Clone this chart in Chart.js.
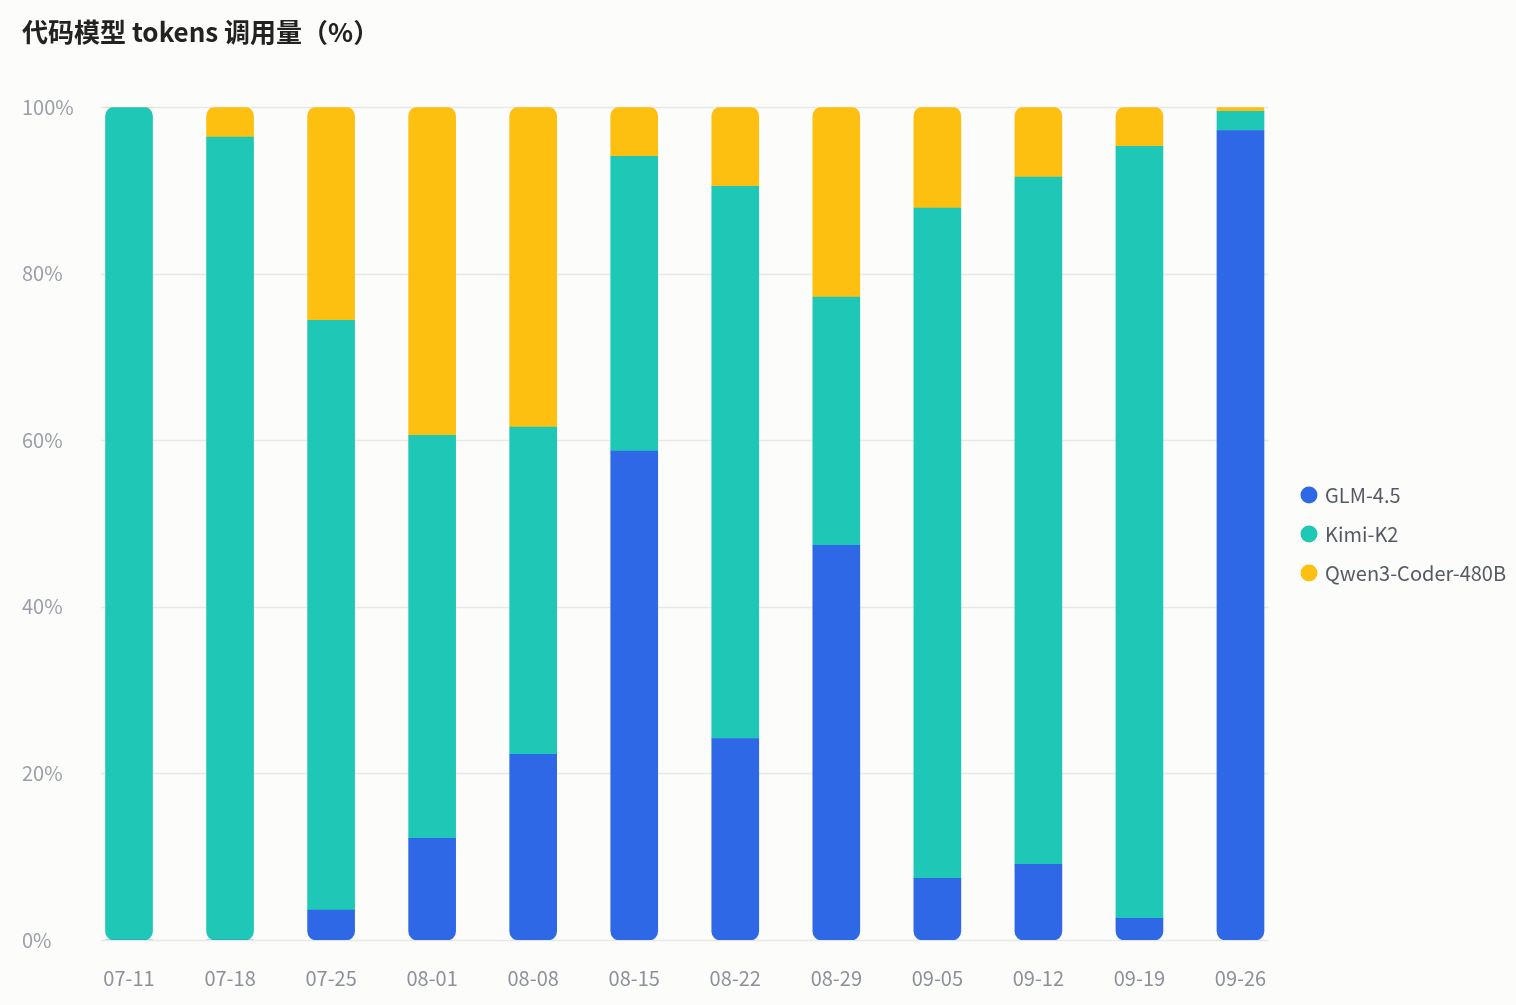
<!DOCTYPE html>
<html>
<head>
<meta charset="utf-8">
<script src="https://cdn.jsdelivr.net/npm/chart.js@4"></script>
<style>
  html, body { margin: 0; padding: 0; background: #fcfcfb; }
  #wrap { width: 1516px; height: 1005px; }
</style>
</head>
<body>
<div id="wrap"><canvas id="chart"></canvas></div>
<script>
// weekly share of code-model token calls (%)
const weeks = ['07-11', '07-18', '07-25', '08-01', '08-08', '08-15', '08-22', '08-29', '09-05', '09-12', '09-19', '09-26'];
const glm   = [0, 0, 3.6, 12.2, 22.3, 58.7, 24.2, 47.4, 7.4, 9.1, 2.6, 97.2];
const kimi  = [100, 96.4, 70.8, 48.4, 39.3, 35.4, 66.3, 29.8, 80.5, 82.5, 92.7, 2.3];
const qwen  = [0, 3.6, 25.6, 39.4, 38.4, 5.9, 9.5, 22.8, 12.1, 8.4, 4.7, 0.5];
const yTicks = [0, 20, 40, 60, 80, 100];

const seriesNames = ['GLM-4.5', 'Kimi-K2', 'Qwen3-Coder-480B'];
const seriesColors = ['#2e68e6', '#1fc8b6', '#fdc010'];
const allSeries = [glm, kimi, qwen];

const font = '"Noto Sans CJK SC", "Noto Sans", sans-serif';

// round only the outer ends of each stack
function cornerRadius(ctx) {
    const i = ctx.dataIndex;
    const d = ctx.datasetIndex;
    let first = -1, last = -1;
    allSeries.forEach((s, k) => {
        if (s[i] > 0) {
            if (first < 0) first = k;
            last = k;
        }
    });
    const r = 9;
    return {
        topLeft: d === last ? r : 0,
        topRight: d === last ? r : 0,
        bottomLeft: d === first ? r : 0,
        bottomRight: d === first ? r : 0
    };
}

const layoutPlugin = {
    id: 'barGrid',
    beforeInit(chart) {
        // fixed legend width so the plot keeps its place
        const fit = chart.legend.fit;
        chart.legend.fit = function () {
            fit.call(this);
            this.width = 225;
        };
    },
    afterLayout(chart) {
        // push the legend block a little below the middle and to the left
        const lg = chart.legend;
        lg.top += 39;
        lg.bottom += 39;
        lg.left -= 7;
        lg.right -= 7;
    },
    // horizontal grid lines spanning from first bar to last bar
    beforeDatasetsDraw(chart) {
        const x = chart.scales.x;
        const y = chart.scales.y;
        const half = 28;
        const left = x.getPixelForValue(0) - half;
        const right = x.getPixelForValue(weeks.length - 1) + half;
        const c = chart.ctx;
        c.save();
        c.strokeStyle = '#e8e8e8';
        c.lineWidth = 1.5;
        yTicks.forEach(v => {
            const py = Math.round(y.getPixelForValue(v)) + 0.5;
            c.beginPath();
            c.moveTo(left, py);
            c.lineTo(right, py);
            c.stroke();
        });
        c.restore();
    }
};

const ctx = document.getElementById('chart').getContext('2d');
const chart = new Chart(ctx, {
    type: 'bar',
    data: {
        labels: weeks,
        datasets: allSeries.map((s, k) => ({
            label: seriesNames[k],
            data: s,
            backgroundColor: seriesColors[k],
            borderWidth: 0,
            borderSkipped: false,
            borderRadius: cornerRadius,
            barThickness: 47
        }))
    },
    options: {
        responsive: true,
        maintainAspectRatio: false,
        animation: false,
        layout: {
            padding: { left: 22, right: 0, top: 0, bottom: 15 }
        },
        plugins: {
            title: {
                display: true,
                text: '代码模型 tokens 调用量（%）',
                align: 'start',
                color: '#222222',
                font: { family: font, size: 26, weight: 'bold' },
                padding: { top: 17, bottom: 59 }
            },
            legend: {
                position: 'right',
                align: 'center',
                labels: {
                    usePointStyle: true,
                    pointStyle: 'circle',
                    boxWidth: 12,
                    boxHeight: 12,
                    padding: 19,
                    color: '#555a62',
                    font: { family: font, size: 20 }
                }
            },
            tooltip: { enabled: false }
        },
        scales: {
            x: {
                stacked: true,
                afterFit: axis => {
                    axis.height = 50;
                },
                grid: { display: false, drawTicks: false },
                border: { display: false },
                ticks: {
                    color: '#8c9099',
                    padding: 26,
                    font: { family: font, size: 20 }
                }
            },
            y: {
                stacked: true,
                min: 0,
                max: 100,
                afterBuildTicks: axis => {
                    axis.ticks = yTicks.map(v => ({ value: v }));
                },
                afterFit: axis => {
                    axis.width = 56.5;
                },
                grid: { display: false, drawTicks: false },
                border: { display: false },
                ticks: {
                    color: '#9a9ea6',
                    crossAlign: 'far',
                    padding: 4,
                    font: { family: font, size: 20 },
                    callback: v => v + '%'
                }
            }
        }
    },
    plugins: [layoutPlugin]
});
</script>
</body>
</html>
